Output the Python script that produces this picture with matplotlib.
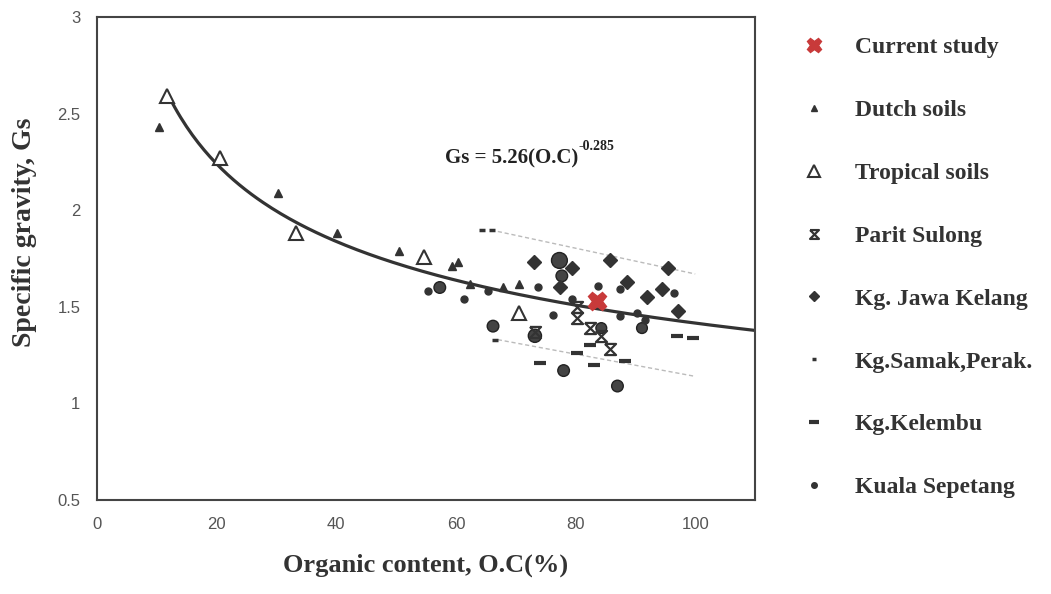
import numpy as np
import matplotlib
matplotlib.use("Agg")
import matplotlib.pyplot as plt
from matplotlib.path import Path

# values
current_x, current_y = [83.5], [1.53]
dutch_x = [10.3, 30.3, 40.1, 50.4, 59.3, 60.4, 62.4, 67.9, 70.5]
dutch_y = [2.43, 2.09, 1.88, 1.79, 1.71, 1.73, 1.62, 1.60, 1.62]
tropical_x = [11.7, 20.6, 33.3, 54.6, 70.5]
tropical_y = [2.59, 2.27, 1.88, 1.76, 1.47]
parit_x = [80.2, 80.2, 82.4, 84.3, 85.8, 73.2]
parit_y = [1.50, 1.44, 1.39, 1.35, 1.28, 1.37]
jawa_x = [73.0, 79.4, 77.4, 85.8, 95.5, 88.6, 94.4, 91.9, 97.2]
jawa_y = [1.73, 1.70, 1.60, 1.74, 1.70, 1.63, 1.59, 1.55, 1.48]
samak_x = [64.3, 66.0, 66.5]
samak_y = [1.90, 1.90, 1.33]
kelembu_x = [82.4, 80.2, 88.3, 74.1, 83.0, 96.9, 99.7]
kelembu_y = [1.30, 1.26, 1.22, 1.21, 1.20, 1.35, 1.34]
kuala_x = [55.4, 61.4, 65.4, 73.8, 83.8, 87.5, 96.5, 79.4, 76.2, 87.5, 90.2, 91.6]
kuala_y = [1.58, 1.54, 1.58, 1.60, 1.61, 1.59, 1.57, 1.54, 1.46, 1.45, 1.47, 1.43]
circle_x = [57.3, 66.2, 77.3, 77.7, 91.1, 78.0, 87.0, 73.2, 84.3]
circle_y = [1.60, 1.40, 1.74, 1.66, 1.39, 1.17, 1.09, 1.35, 1.39]
circle_s = [70, 70, 130, 70, 60, 70, 70, 90, 60]

band_x = [67, 100]
band_up = [1.89, 1.67]
band_lo = [1.33, 1.14]

a, b = 5.26, -0.285

plt.rcParams['font.family'] = ['Liberation Serif', 'DejaVu Serif']

fig = plt.figure(figsize=(10.51, 5.94), dpi=100)
ax = fig.add_axes([0.0923, 0.1582, 0.6261, 0.8132])

dark = '#333333'
hour = Path([(-1, 1), (1, 1), (-1, -1), (1, -1), (-1, 1)],
            [Path.MOVETO, Path.LINETO, Path.LINETO, Path.LINETO, Path.LINETO])

ax.plot(band_x, band_up, color='#bbbbbb', lw=1, ls=(0, (3, 2)))
ax.plot(band_x, band_lo, color='#bbbbbb', lw=1, ls=(0, (3, 2)))

xx = np.linspace(12, 110, 200)
ax.plot(xx, a * xx ** b, color=dark, lw=2.3, zorder=2)

ax.scatter(circle_x, circle_y, s=circle_s, color='#444444', edgecolor='#222222',
           zorder=3)
ax.plot(dutch_x, dutch_y, '^', color=dark, ms=5.5, ls='none', label='Dutch soils', zorder=4)
ax.plot(tropical_x, tropical_y, '^', mfc='white', mec=dark, mew=1.5, ms=10,
        ls='none', label='Tropical soils', zorder=4)
ax.plot(parit_x, parit_y, marker=hour, mfc='none', mec=dark, mew=1.6, ms=8,
        ls='none', label='Parit Sulong', zorder=4)
ax.plot(jawa_x, jawa_y, 'D', color=dark, ms=7, ls='none', label='Kg. Jawa Kelang', zorder=4)
ax.plot(samak_x, samak_y, '_', color=dark, ms=4, mew=2.5, ls='none',
        label='Kg.Samak,Perak.', zorder=4)
ax.plot(kelembu_x, kelembu_y, '_', color=dark, ms=9, mew=3, ls='none',
        label='Kg.Kelembu', zorder=4)
ax.plot(kuala_x, kuala_y, 'o', color=dark, ms=5, ls='none', label='Kuala Sepetang', zorder=4)
ax.plot(current_x, current_y, 'X', color='#c83a3a', ms=13, ls='none',
        label='Current study', zorder=5)

t1 = ax.text(58.2, 2.27, 'Gs = 5.26(O.C)', fontsize=15, fontweight='bold',
             color='#222222', va='center')
ax.annotate('-0.285', xy=(1, 0.75), xycoords=t1, fontsize=10, fontweight='bold',
            color='#222222', va='bottom', ha='left')

ax.set_xlim(0, 110)
ax.set_ylim(0.5, 3)
ax.set_xticks([0, 20, 40, 60, 80, 100])
ax.set_yticks([0.5, 1, 1.5, 2, 2.5, 3])
ax.set_yticklabels(['0.5', '1', '1.5', '2', '2.5', '3'])
ax.tick_params(length=0, labelsize=12, labelcolor='#555555', pad=12)
for lab in ax.get_xticklabels() + ax.get_yticklabels():
    lab.set_family(['Liberation Sans', 'DejaVu Sans'])
for sp in ax.spines.values():
    sp.set_color('#444444')
    sp.set_linewidth(1.5)

ax.set_xlabel('Organic content, O.C(%)', fontsize=19, fontweight='bold',
              color='#333333', labelpad=16)
ax.set_ylabel('Specific gravity, Gs', fontsize=20, fontweight='bold',
              color='#333333')
ax.yaxis.set_label_coords(-0.091, 0.555)

h, l = ax.get_legend_handles_labels()
order = [7, 0, 1, 2, 3, 4, 5, 6]
leg = ax.legend([h[i] for i in order], [l[i] for i in order],
                loc='upper left', bbox_to_anchor=(1.04, 1.003), frameon=False,
                prop={'size': 17, 'weight': 'bold'}, labelspacing=1.75,
                handlelength=1.0, handletextpad=1.2, markerscale=0.8)
for t in leg.get_texts():
    t.set_color('#333333')

fig.savefig('out.png', dpi=100)
